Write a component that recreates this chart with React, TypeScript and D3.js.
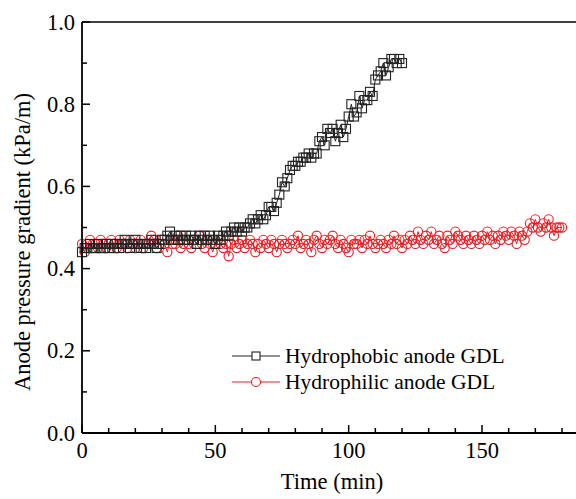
import React from "react";
import * as d3 from "d3";

const hydrophobicTime: number[] = Array.from({ length: 121 }, (_, i) => i);
const hydrophobicValues: number[] = [
  0.44, 0.45, 0.45, 0.46, 0.45, 0.45, 0.46, 0.45, 0.45, 0.46,
  0.45, 0.46, 0.45, 0.46, 0.45, 0.46, 0.47, 0.46, 0.45, 0.46,
  0.47, 0.46, 0.45, 0.46, 0.45, 0.46, 0.47, 0.46, 0.45, 0.46,
  0.47, 0.47, 0.48, 0.49, 0.47, 0.48, 0.47, 0.48, 0.47, 0.48,
  0.47, 0.48, 0.47, 0.46, 0.48, 0.47, 0.48, 0.47, 0.48, 0.47,
  0.46, 0.48, 0.47, 0.48, 0.49, 0.48, 0.49, 0.50, 0.49, 0.50,
  0.49, 0.50, 0.50, 0.51, 0.52, 0.51, 0.52, 0.53, 0.52, 0.53,
  0.55, 0.55, 0.54, 0.56, 0.58, 0.61, 0.60, 0.62, 0.64, 0.65,
  0.65, 0.66, 0.66, 0.67, 0.67, 0.68, 0.67, 0.68, 0.68, 0.71,
  0.72, 0.70, 0.74, 0.73, 0.74, 0.71, 0.73, 0.75, 0.72, 0.74,
  0.77, 0.80, 0.77, 0.78, 0.82, 0.79, 0.81, 0.81, 0.83, 0.82,
  0.86, 0.87, 0.88, 0.90, 0.87, 0.89, 0.91, 0.91, 0.90, 0.91,
  0.90,
];

const hydrophilicTime: number[] = Array.from({ length: 181 }, (_, i) => i);
const hydrophilicValues: number[] = [
  0.46, 0.44, 0.46, 0.47, 0.45, 0.46, 0.45, 0.47, 0.46, 0.45,
  0.46, 0.47, 0.46, 0.45, 0.47, 0.46, 0.46, 0.45, 0.47, 0.46,
  0.45, 0.46, 0.47, 0.45, 0.46, 0.46, 0.48, 0.47, 0.45, 0.46,
  0.47, 0.46, 0.44, 0.47, 0.46, 0.46, 0.48, 0.45, 0.46, 0.47,
  0.46, 0.45, 0.47, 0.46, 0.48, 0.46, 0.45, 0.47, 0.46, 0.44,
  0.46, 0.47, 0.46, 0.45, 0.46, 0.43, 0.46, 0.47, 0.45, 0.46,
  0.47, 0.45, 0.46, 0.47, 0.46, 0.44, 0.46, 0.45, 0.47, 0.46,
  0.45, 0.47, 0.46, 0.44, 0.46, 0.47, 0.46, 0.45, 0.46, 0.47,
  0.46, 0.48, 0.45, 0.46, 0.47, 0.46, 0.44, 0.47, 0.48, 0.46,
  0.45, 0.47, 0.46, 0.47, 0.48, 0.46, 0.45, 0.47, 0.46, 0.45,
  0.44, 0.47, 0.46, 0.46, 0.47, 0.45, 0.47, 0.46, 0.48, 0.46,
  0.45, 0.46, 0.47, 0.46, 0.45, 0.47, 0.46, 0.48, 0.46, 0.47,
  0.45, 0.47, 0.46, 0.48, 0.47, 0.46, 0.49, 0.47, 0.46, 0.48,
  0.47, 0.49, 0.46, 0.47, 0.48, 0.46, 0.45, 0.48, 0.47, 0.46,
  0.49, 0.48, 0.47, 0.46, 0.48, 0.47, 0.46, 0.48, 0.47, 0.46,
  0.48, 0.47, 0.49, 0.47, 0.48, 0.46, 0.48, 0.47, 0.49, 0.48,
  0.47, 0.49, 0.48, 0.46, 0.49, 0.48, 0.47, 0.49, 0.51, 0.50,
  0.52, 0.50, 0.49, 0.51, 0.50, 0.52, 0.50, 0.48, 0.50, 0.50,
  0.50,
];

const xTicksMajor: number[] = [0, 50, 100, 150];
const yTicksMajor: number[] = [0.0, 0.2, 0.4, 0.6, 0.8, 1.0];

const W = 576;
const H = 499;
const FONT = "'Liberation Serif', 'Times New Roman', serif";
const RED = "#ee1d24";

export default function App() {
  const x = d3.scaleLinear().domain([0, 200]).range([82, 82 + 200 * (400 / 150)]);
  const y = d3.scaleLinear().domain([0, 1]).range([433, 22]);

  const line = d3
    .line<[number, number]>()
    .x((d) => x(d[0]))
    .y((d) => y(d[1]));

  const phobic: [number, number][] = hydrophobicTime.map((t, i) => [t, hydrophobicValues[i]]);
  const philic: [number, number][] = hydrophilicTime.map((t, i) => [t, hydrophilicValues[i]]);

  const xMinor = d3.range(0, 200, 10);
  const yMinor = d3.range(0, 1.0001, 0.1);

  const sq = 9;
  const r = 4.6;

  return (
    <svg
      width={W}
      height={H}
      style={{ position: "absolute", left: 0, top: 0, background: "#fff" }}
      fontFamily={FONT}
    >
      {/* data */}
      <path d={line(philic) || ""} fill="none" stroke={RED} strokeWidth={1} />
      {philic.map((d, i) => (
        <circle key={"c" + i} cx={x(d[0])} cy={y(d[1])} r={r} fill="none" stroke={RED} strokeWidth={1.1} />
      ))}
      <path d={line(phobic) || ""} fill="none" stroke="#222" strokeWidth={1} />
      {phobic.map((d, i) => (
        <rect
          key={"s" + i}
          x={x(d[0]) - sq / 2}
          y={y(d[1]) - sq / 2}
          width={sq}
          height={sq}
          fill="none"
          stroke="#222"
          strokeWidth={1.1}
        />
      ))}

      {/* axes frame */}
      <line x1={x(0)} x2={W} y1={y(1)} y2={y(1)} stroke="#000" strokeWidth={1.6} />
      <line x1={x(0)} x2={W} y1={y(0)} y2={y(0)} stroke="#000" strokeWidth={1.8} />
      <line x1={x(0)} x2={x(0)} y1={y(0)} y2={y(1)} stroke="#000" strokeWidth={1.8} />

      {/* x ticks */}
      {xMinor.map((t) => {
        const major = t % 50 === 0;
        return (
          <line key={"xt" + t} x1={x(t)} x2={x(t)} y1={y(0)} y2={y(0) - (major ? 8 : 5)} stroke="#000" strokeWidth={1.5} />
        );
      })}
      {xTicksMajor.map((t) => (
        <text key={"xl" + t} x={x(t)} y={458} fontSize={22.5} textAnchor="middle" fill="#000">
          {t}
        </text>
      ))}

      {/* y ticks */}
      {yMinor.map((v, i) => {
        const major = i % 2 === 0;
        return (
          <line key={"yt" + i} x1={x(0)} x2={x(0) + (major ? 8 : 5)} y1={y(v)} y2={y(v)} stroke="#000" strokeWidth={1.5} />
        );
      })}
      {yTicksMajor.map((v) => (
        <text key={"yl" + v} x={75} y={y(v) + 7.5} fontSize={22.5} textAnchor="end" fill="#000">
          {v.toFixed(1)}
        </text>
      ))}

      {/* axis titles */}
      <text x={332} y={489} fontSize={22.5} textAnchor="middle" fill="#000">
        Time (min)
      </text>
      <text
        transform={`translate(30, 242) rotate(-90)`}
        fontSize={22.5}
        textAnchor="middle"
        fill="#000"
      >
        Anode pressure gradient (kPa/m)
      </text>

      {/* legend */}
      <g>
        <line x1={232} x2={280} y1={356} y2={356} stroke="#222" strokeWidth={1.2} />
        <rect x={256 - 4} y={356 - 4} width={8} height={8} fill="#fff" stroke="#222" strokeWidth={1.1} />
        <text x={285} y={363} fontSize={21.5} fill="#000">
          Hydrophobic anode GDL
        </text>
        <line x1={232} x2={280} y1={382} y2={382} stroke={RED} strokeWidth={1.2} />
        <circle cx={256} cy={382} r={4.5} fill="#fff" stroke={RED} strokeWidth={1.1} />
        <text x={285} y={389} fontSize={21.5} fill="#000">
          Hydrophilic anode GDL
        </text>
      </g>
    </svg>
  );
}
